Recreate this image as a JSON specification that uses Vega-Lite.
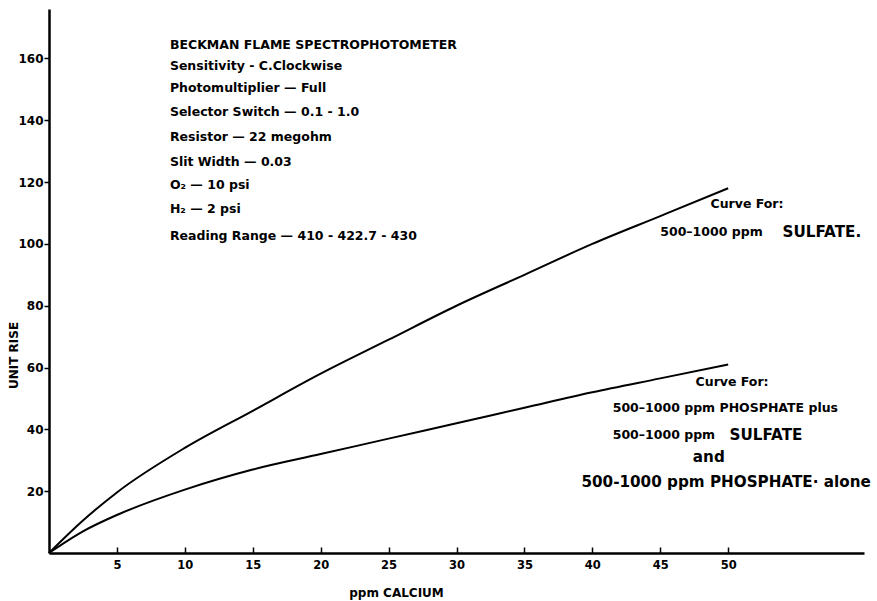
{
  "$schema": "https://vega.github.io/schema/vega-lite/v6.json",
  "width": 815,
  "height": 544,
  "autosize": {"type": "none"},
  "padding": {"left": 49, "top": 9, "right": 13, "bottom": 48},
  "background": "white",
  "config": {
    "view": {"stroke": null},
    "font": "DejaVu Sans",
    "text": {"font": "DejaVu Sans", "fontWeight": "bold", "color": "black"}
  },
  "datasets": {
    "curves": [
      {"series": "Sulfate", "ppm": 0, "rise": 0},
      {"series": "Sulfate", "ppm": 2.5, "rise": 10.5},
      {"series": "Sulfate", "ppm": 5, "rise": 19.6},
      {"series": "Sulfate", "ppm": 10, "rise": 34},
      {"series": "Sulfate", "ppm": 15, "rise": 46},
      {"series": "Sulfate", "ppm": 20, "rise": 58},
      {"series": "Sulfate", "ppm": 25, "rise": 69},
      {"series": "Sulfate", "ppm": 30, "rise": 80},
      {"series": "Sulfate", "ppm": 35, "rise": 90},
      {"series": "Sulfate", "ppm": 40, "rise": 100},
      {"series": "Sulfate", "ppm": 45, "rise": 109},
      {"series": "Sulfate", "ppm": 50, "rise": 118},
      {"series": "Phosphate", "ppm": 0, "rise": 0},
      {"series": "Phosphate", "ppm": 2.5, "rise": 7},
      {"series": "Phosphate", "ppm": 5, "rise": 12.3},
      {"series": "Phosphate", "ppm": 10, "rise": 20.5},
      {"series": "Phosphate", "ppm": 15, "rise": 27},
      {"series": "Phosphate", "ppm": 20, "rise": 32},
      {"series": "Phosphate", "ppm": 25, "rise": 37},
      {"series": "Phosphate", "ppm": 30, "rise": 42},
      {"series": "Phosphate", "ppm": 35, "rise": 47},
      {"series": "Phosphate", "ppm": 40, "rise": 52},
      {"series": "Phosphate", "ppm": 45, "rise": 56.5},
      {"series": "Phosphate", "ppm": 50, "rise": 61}
    ],
    "notes": [
      {"ppm": 8.9, "rise": 164.4, "label": "BECKMAN FLAME SPECTROPHOTOMETER"},
      {"ppm": 8.9, "rise": 157.5, "label": "Sensitivity - C.Clockwise"},
      {"ppm": 8.9, "rise": 150.4, "label": "Photomultiplier — Full"},
      {"ppm": 8.9, "rise": 142.8, "label": "Selector Switch —  0.1 - 1.0"},
      {"ppm": 8.9, "rise": 134.7, "label": "Resistor — 22 megohm"},
      {"ppm": 8.9, "rise": 126.6, "label": "Slit Width — 0.03"},
      {"ppm": 8.9, "rise": 119.0, "label": "O₂ —  10 psi"},
      {"ppm": 8.9, "rise": 111.3, "label": "H₂ —  2 psi"},
      {"ppm": 8.9, "rise": 102.4, "label": "Reading Range — 410 - 422.7 - 430"}
    ],
    "smallLabels": [
      {"ppm": 48.7, "rise": 112.9, "label": "Curve For:"},
      {"ppm": 45.0, "rise": 103.9, "label": "500–1000 ppm"},
      {"ppm": 47.6, "rise": 55.3, "label": "Curve For:"},
      {"ppm": 41.5, "rise": 46.9, "label": "500–1000 ppm PHOSPHATE plus"},
      {"ppm": 41.5, "rise": 38.2, "label": "500–1000 ppm"}
    ],
    "bigLabels": [
      {"ppm": 54.0, "rise": 103.9, "label": "SULFATE."},
      {"ppm": 50.1, "rise": 38.2, "label": "SULFATE"},
      {"ppm": 47.4, "rise": 31.1, "label": "and"},
      {"ppm": 39.2, "rise": 23.0, "label": "500-1000  ppm  PHOSPHATE· alone"}
    ]
  },
  "layer": [
    {
      "data": {"name": "curves"},
      "mark": {"type": "line", "color": "black", "strokeWidth": 2, "interpolate": "monotone"},
      "encoding": {
        "x": {
          "field": "ppm", "type": "quantitative",
          "scale": {"domain": [0, 60], "nice": false},
          "axis": {
            "title": "ppm CALCIUM",
            "values": [5, 10, 15, 20, 25, 30, 35, 40, 45, 50],
            "grid": false,
            "domainColor": "black", "domainWidth": 2.5,
            "tickColor": "black", "tickWidth": 1.5, "tickSize": -6,
            "labelFont": "DejaVu Sans", "labelFontWeight": "bold", "labelFontSize": 11.5, "labelColor": "black",
            "labelPadding": 12,
            "titleFont": "DejaVu Sans", "titleFontWeight": "bold", "titleFontSize": 12, "titleColor": "black",
            "titleX": 347, "titleY": 39, "titleBaseline": "middle"
          }
        },
        "y": {
          "field": "rise", "type": "quantitative",
          "scale": {"domain": [0, 176], "nice": false},
          "axis": {
            "title": "UNIT RISE",
            "values": [20, 40, 60, 80, 100, 120, 140, 160],
            "grid": false,
            "domainColor": "black", "domainWidth": 2.5,
            "tickColor": "black", "tickWidth": 1.5, "tickSize": 5,
            "labelFont": "DejaVu Sans", "labelFontWeight": "bold", "labelFontSize": 12, "labelColor": "black",
            "labelPadding": 1,
            "titleFont": "DejaVu Sans", "titleFontWeight": "bold", "titleFontSize": 12, "titleColor": "black",
            "titleX": -36, "titleY": 346, "titleAngle": -90, "titleBaseline": "middle", "titleAlign": "center"
          }
        },
        "detail": {"field": "series"}
      }
    },
    {
      "data": {"name": "notes"},
      "mark": {"type": "text", "align": "left", "baseline": "middle", "fontSize": 12.5},
      "encoding": {
        "x": {"field": "ppm", "type": "quantitative"},
        "y": {"field": "rise", "type": "quantitative"},
        "text": {"field": "label"}
      }
    },
    {
      "data": {"name": "smallLabels"},
      "mark": {"type": "text", "align": "left", "baseline": "middle", "fontSize": 12.5},
      "encoding": {
        "x": {"field": "ppm", "type": "quantitative"},
        "y": {"field": "rise", "type": "quantitative"},
        "text": {"field": "label"}
      }
    },
    {
      "data": {"name": "bigLabels"},
      "mark": {"type": "text", "align": "left", "baseline": "middle", "fontSize": 15.2},
      "encoding": {
        "x": {"field": "ppm", "type": "quantitative"},
        "y": {"field": "rise", "type": "quantitative"},
        "text": {"field": "label"}
      }
    }
  ]
}
